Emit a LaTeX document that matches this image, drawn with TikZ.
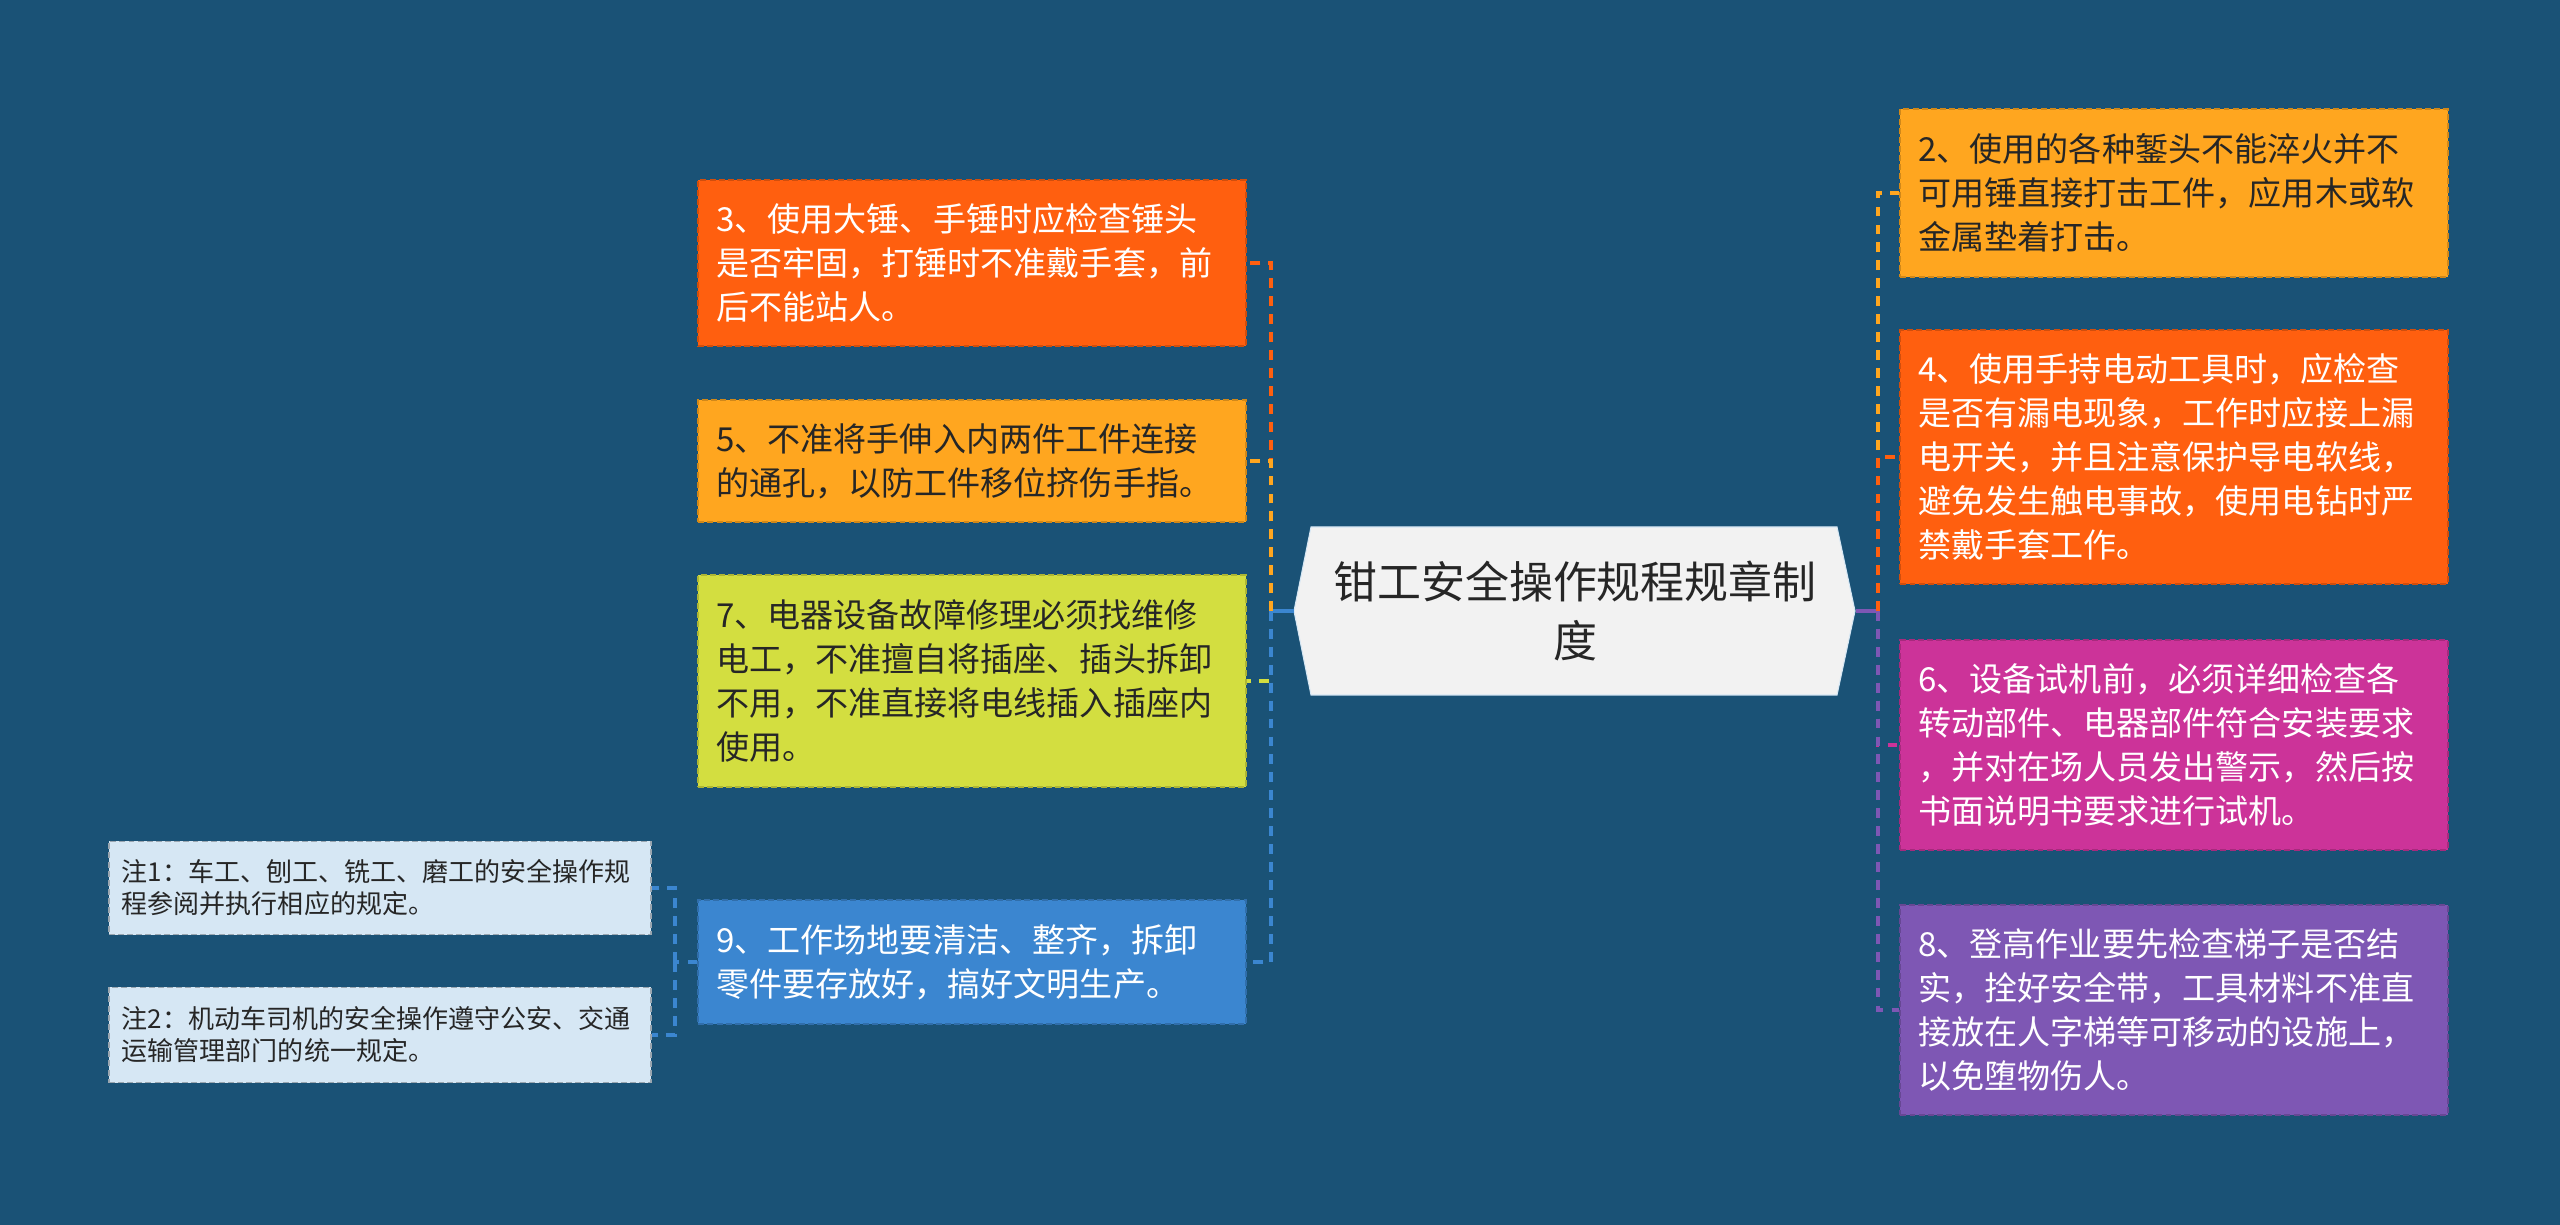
\documentclass[tikz,border=0pt]{standalone}
\usepackage{fontspec}
\setmainfont{Noto Sans CJK SC}

\definecolor{bgblue}{HTML}{1A5276}
\definecolor{redorange}{HTML}{FF5F0F}
\definecolor{amber}{HTML}{FFA61F}
\definecolor{limey}{HTML}{D3DE40}
\definecolor{steel}{HTML}{3B86D0}
\definecolor{berry}{HTML}{CC3399}
\definecolor{grape}{HTML}{7E57B4}
\definecolor{paleblue}{HTML}{D6E7F4}
\definecolor{rootgray}{HTML}{F2F2F2}
\definecolor{ink}{HTML}{262626}

\tikzset{
  item/.style={draw=#1!82!black, fill=#1, dash pattern=on 1.7pt off 0.9pt, line width=0.55pt,
    text width=5.11cm, inner xsep=0.18cm, inner ysep=0pt, align=left,
    font=\fontsize{9.4pt}{12.5pt}\selectfont},
  note/.style={draw=paleblue!72!black, fill=paleblue, dash pattern=on 1.7pt off 0.9pt, line width=0.55pt,
    text width=5.16cm, inner xsep=0.13cm, inner ysep=0pt, align=left, text=ink,
    font=\fontsize{7.4pt}{9.1pt}\selectfont},
  link/.style={draw=#1, line width=1pt, dash pattern=on 2.8pt off 2.3pt},
  stem/.style={draw=#1, line width=1pt}
}

\begin{document}
\begin{tikzpicture}[x=0.01cm, y=-0.01cm]
            \useasboundingbox (0,0) rectangle (2560,1225);
            \fill[bgblue] (0,0) rectangle (2560,1225);

            \fill[rootgray, draw=paleblue, line width=0.3pt] (1294,611) -- (1311,527) -- (1837,527) -- (1855,611) -- (1837,695) -- (1311,695) -- cycle;
            \node[minimum width=5.61cm, minimum height=1.68cm, align=center, text=ink,
                  font=\fontsize{12.5pt}{16.8pt}\selectfont] (root) at (1575,611) {钳工安全操作规程规章制\\度};

            \node[item=redorange, text=white, minimum height=1.66cm] (n3) at (972,263)
                {3、使用大锤、手锤时应检查锤头\\是否牢固，打锤时不准戴手套，前\\后不能站人。};
            \node[item=amber, text=ink, minimum height=1.22cm] (n5) at (972,461)
                {5、不准将手伸入内两件工件连接\\的通孔，以防工件移位挤伤手指。};
            \node[item=limey, text=ink, minimum height=2.12cm] (n7) at (972,681)
                {7、电器设备故障修理必须找维修\\电工，不准擅自将插座、插头拆卸\\不用，不准直接将电线插入插座内\\使用。};
            \node[item=steel, text=white, minimum height=1.24cm] (n9) at (972,962)
                {9、工作场地要清洁、整齐，拆卸\\零件要存放好，搞好文明生产。};

            \node[note, minimum height=0.93cm] (c1) at (380,888)
                {注1：车工、刨工、铣工、磨工的安全操作规\\程参阅并执行相应的规定。};
            \node[note, minimum height=0.95cm] (c2) at (380,1035)
                {注2：机动车司机的安全操作遵守公安、交通\\运输管理部门的统一规定。};

            \node[item=amber, text=ink, minimum height=1.67cm] (n2) at (2174,193)
                {2、使用的各种錾头不能淬火并不\\可用锤直接打击工件，应用木或软\\金属垫着打击。};
            \node[item=redorange, text=white, minimum height=2.53cm] (n4) at (2174,457)
                {4、使用手持电动工具时，应检查\\是否有漏电现象，工作时应接上漏\\电开关，并且注意保护导电软线，\\避免发生触电事故，使用电钻时严\\禁戴手套工作。};
            \node[item=berry, text=white, minimum height=2.09cm] (n6) at (2174,745)
                {6、设备试机前，必须详细检查各\\转动部件、电器部件符合安装要求\\，并对在场人员发出警示，然后按\\书面说明书要求进行试机。};
            \node[item=grape, text=white, minimum height=2.09cm] (n8) at (2174,1010)
                {8、登高作业要先检查梯子是否结\\实，拴好安全带，工具材料不准直\\接放在人字梯等可移动的设施上，\\以免堕物伤人。};

            \coordinate (lj) at (1271,611);
            \coordinate (rj) at (1878,611);
            \coordinate (nj) at (675,962);

            \draw[stem=steel] (root.west) -- (lj);
            \draw[link=redorange] (lj) |- (n3.east);
            \draw[link=amber] (lj) |- (n5.east);
            \draw[link=limey] (lj) |- (n7.east);
            \draw[link=steel] (lj) |- (n9.east);

            \draw[stem=grape] (root.east) -- (rj);
            \draw[link=amber] (rj) |- (n2.west);
            \draw[link=redorange] (rj) |- (n4.west);
            \draw[link=berry] (rj) |- (n6.west);
            \draw[link=grape] (rj) |- (n8.west);

            \draw[link=steel] (n9.west) -- (nj);
            \draw[link=steel] (nj) |- (c1.east);
            \draw[link=steel] (nj) |- (c2.east);
          \end{tikzpicture}
\end{document}
